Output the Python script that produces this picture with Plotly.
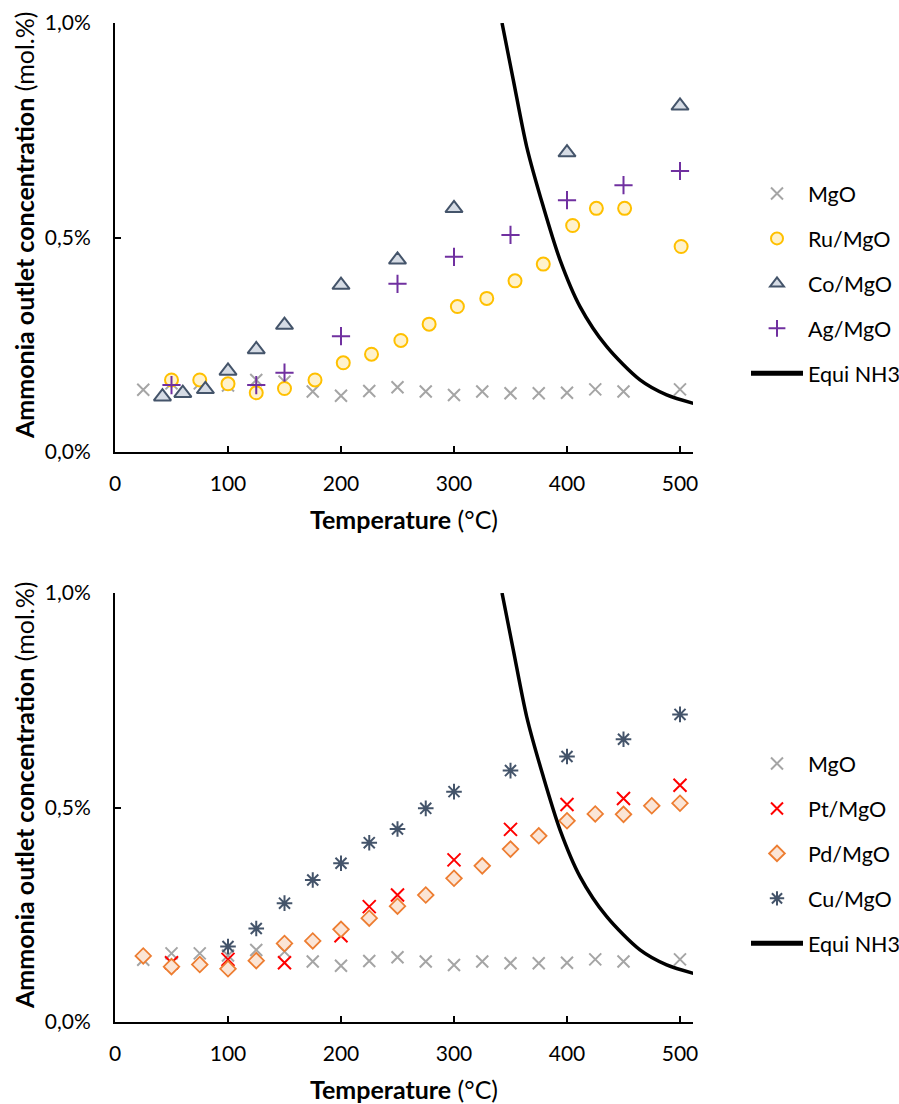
import plotly.graph_objects as go

# ---------------- data ----------------
mgo_T = [25, 50, 75, 100, 125, 150, 175, 200, 225, 250, 275, 300, 325, 350, 375, 400, 425, 450, 500]
mgo_v = [0.145, 0.160, 0.160, 0.155, 0.168, 0.164, 0.141, 0.131, 0.142, 0.151, 0.141, 0.133, 0.141, 0.137, 0.137, 0.138, 0.146, 0.141, 0.146]

ru_T = [50, 75, 100, 125, 150, 177, 202, 227, 253, 278, 303, 329, 354, 379, 405, 426, 451, 501]
ru_v = [0.168, 0.168, 0.159, 0.138, 0.148, 0.168, 0.208, 0.228, 0.260, 0.298, 0.339, 0.358, 0.399, 0.438, 0.528, 0.568, 0.568, 0.479]

co_T = [42, 60, 80, 100, 125, 150, 200, 250, 300, 400, 500]
co_v = [0.129, 0.137, 0.146, 0.189, 0.239, 0.296, 0.389, 0.448, 0.568, 0.698, 0.807]

ag_T = [50, 125, 150, 200, 250, 300, 350, 400, 450, 500]
ag_v = [0.156, 0.156, 0.185, 0.270, 0.392, 0.455, 0.506, 0.587, 0.622, 0.655]

pt_T = [50, 100, 150, 200, 225, 250, 300, 350, 400, 450, 500]
pt_v = [0.138, 0.146, 0.138, 0.201, 0.269, 0.296, 0.378, 0.449, 0.507, 0.521, 0.552]

pd_T = [25, 50, 75, 100, 125, 150, 175, 200, 225, 250, 275, 300, 325, 350, 375, 400, 425, 450, 475, 500]
pd_v = [0.154, 0.129, 0.134, 0.124, 0.143, 0.183, 0.189, 0.216, 0.242, 0.270, 0.296, 0.335, 0.364, 0.403, 0.434, 0.469, 0.485, 0.484, 0.504, 0.510]

cu_T = [100, 125, 150, 175, 200, 225, 250, 275, 300, 350, 400, 450, 500]
cu_v = [0.176, 0.218, 0.277, 0.331, 0.370, 0.418, 0.450, 0.498, 0.537, 0.586, 0.619, 0.659, 0.717]

equi_T = [342.5, 352.5, 364.3, 379, 393.8, 411.5, 435, 464.6, 488.2, 511.8]
equi_v = [1.0, 0.867, 0.712, 0.572, 0.448, 0.339, 0.246, 0.168, 0.133, 0.1135]

x_ticks = [0, 100, 200, 300, 400, 500]
y_ticks = [0.0, 0.5, 1.0]
y_ticktext = ["0,0%", "0,5%", "1,0%"]
x_title = "<b>Temperature</b> (°C)"
y_title = "<b>Ammonia outlet concentration</b> (mol.%)"

# ---------------- styles ----------------
FONT = "Lato, 'Open Sans', sans-serif"
GRAY = "#A5A5A5"

fig = go.Figure()

def scatter(x, y, name, sym, size, color, lcolor, lw, xa, ya, leg, grp):
    fig.add_trace(go.Scatter(
        x=x, y=y, name=name, mode="markers",
        marker=dict(symbol=sym, size=size, color=color,
                    line=dict(color=lcolor, width=lw)),
        xaxis=xa, yaxis=ya, legend=leg, legendgroup=grp))

def equi(xa, ya, leg, grp):
    fig.add_trace(go.Scatter(
        x=equi_T, y=equi_v, name="Equi NH3", mode="lines",
        line=dict(color="black", width=3.5, shape="spline", smoothing=0.8),
        xaxis=xa, yaxis=ya, legend=leg, legendgroup=grp))

# top chart
scatter(mgo_T, mgo_v, "MgO", "x-thin-open", 12, GRAY, GRAY, 2, "x", "y", "legend", "a1")
scatter(ru_T, ru_v, "Ru/MgO", "circle", 13, "#FFF2CC", "#FFC000", 2, "x", "y", "legend", "a2")
scatter(co_T, co_v, "Co/MgO", "triangle-up", 15, "#D6DCE5", "#44546A", 2, "x", "y", "legend", "a3")
scatter(ag_T, ag_v, "Ag/MgO", "cross-thin-open", 13, "#7030A0", "#7030A0", 2, "x", "y", "legend", "a4")
equi("x", "y", "legend", "a5")

# bottom chart
scatter(mgo_T, mgo_v, "MgO", "x-thin-open", 12, GRAY, GRAY, 2, "x2", "y2", "legend2", "b1")
scatter(pt_T, pt_v, "Pt/MgO", "x-thin-open", 13, "#FF0000", "#FF0000", 2, "x2", "y2", "legend2", "b2")
scatter(pd_T, pd_v, "Pd/MgO", "diamond", 12, "#FBE5D6", "#ED7D31", 1.75, "x2", "y2", "legend2", "b3")
scatter(cu_T, cu_v, "Cu/MgO", "asterisk-open", 13, "#44546A", "#44546A", 2, "x2", "y2", "legend2", "b4")
equi("x2", "y2", "legend2", "b5")

W, H = 899, 1104
ML, MR, MT, MB = 115, 899 - 693, 23, 1104 - 1022
PH = H - MT - MB

def py(p):
    return (1022 - p) / PH

def px(p):
    return (p - ML) / (W - ML - MR)

xax = dict(range=[0, 511.5], tickvals=x_ticks, ticks="inside", ticklen=6, tickwidth=1.5,
           tickcolor="black", showline=True, linecolor="black", linewidth=2,
           showgrid=False, zeroline=False, ticklabelstandoff=12,
           tickfont=dict(family=FONT, size=21, color="black"),
           title=dict(text=x_title, standoff=17,
                      font=dict(family=FONT, size=25, color="black")))
yax = dict(range=[0, 1.0], tickvals=y_ticks, ticktext=y_ticktext, ticks="inside", ticklen=6,
           tickwidth=1.5, tickcolor="black", showline=True, linecolor="black", linewidth=2,
           showgrid=False, zeroline=False, ticklabelstandoff=18,
           tickfont=dict(family=FONT, size=21, color="black"))

leg = dict(x=px(746), xanchor="left", yanchor="top", bgcolor="rgba(0,0,0,0)",
           font=dict(family=FONT, size=21.5, color="black"), tracegroupgap=14,
           itemsizing="constant", itemwidth=52)

ytitle_ann = [
    dict(text=y_title, textangle=-90, xref="paper", yref="paper",
         x=px(24), y=py(cy), xanchor="center", yanchor="middle", showarrow=False,
         font=dict(family=FONT, size=25, color="black"))
    for cy in (226, 796)
]

fig.update_layout(
    width=W, height=H,
    margin=dict(l=ML, r=MR, t=MT, b=MB, autoexpand=False),
    paper_bgcolor="white", plot_bgcolor="white",
    xaxis=dict(xax, domain=[0, 1], anchor="y"),
    yaxis=dict(yax, domain=[py(452), 1], anchor="x"),
    xaxis2=dict(xax, domain=[0, 1], anchor="y2"),
    yaxis2=dict(yax, domain=[0, py(593)], anchor="x2"),
    legend=dict(leg, y=py(173)),
    legend2=dict(leg, y=py(743)),
    annotations=ytitle_ann,
    font=dict(family=FONT, color="black"),
)

fig.write_html("out.html", config={"displayModeBar": False},
               post_script="document.body.style.margin='0';")
